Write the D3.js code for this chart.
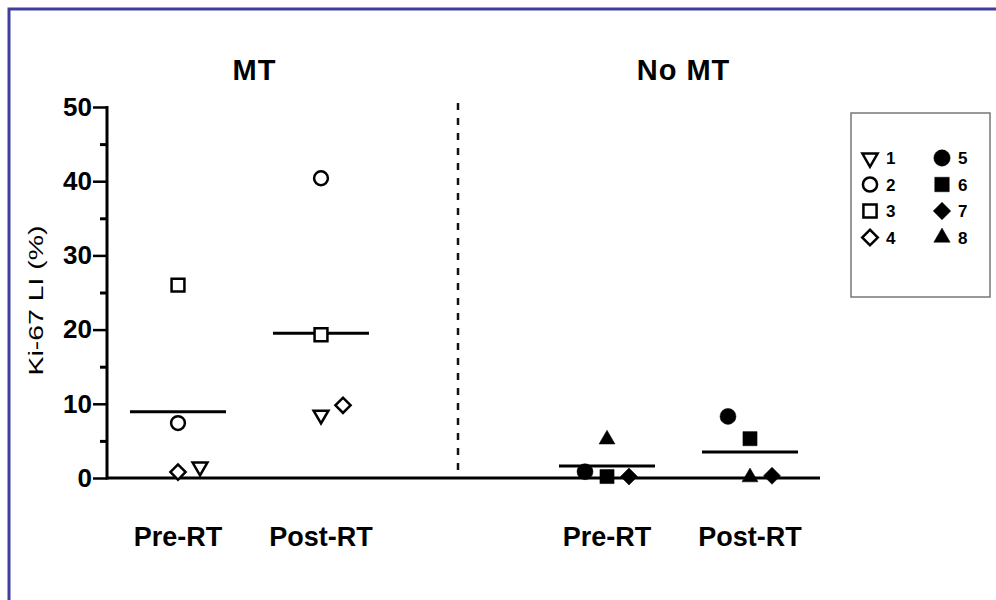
<!DOCTYPE html>
<html>
<head>
<meta charset="utf-8">
<script src="https://cdn.jsdelivr.net/npm/d3@7"></script>
<style>
  html, body { margin: 0; padding: 0; background: #fff; }
  svg { display: block; font-family: "Liberation Sans", Arial, sans-serif; }
</style>
</head>
<body>
<div id="chart"></div>
<script>
// chart data
const groups = ["MT", "No MT"];
const timepoints = ["Pre-RT", "Post-RT"];
const mtPatients = [1, 2, 3, 4];
const noMtPatients = [5, 6, 7, 8];

// Ki-67 LI (%) per patient
const mtPre = [1.5, 7.4, 26.0, 0.8];
const mtPost = [8.5, 40.4, 19.3, 9.8];
const noMtPre = [0.85, 0.2, 0.2, 5.2];
const noMtPost = [8.3, 5.3, 0.3, 0.1];

// side-by-side slot so overlapping points don't hide each other
const mtPreSlot = [1, 0, 0, 0];
const mtPostSlot = [0, 0, 0, 1];
const noMtPreSlot = [-1, 0, 1, 0];
const noMtPostSlot = [-1, 0, 1, 0];

const yTicks = [0, 10, 20, 30, 40, 50];
const yMinorTicks = [5, 15, 25, 35, 45];
const yLabel = "Ki-67 LI (%)";

const W = 996, H = 600;
const svg = d3.select("#chart").append("svg").attr("width", W).attr("height", H);

// frame
svg.append("path").attr("d", `M9,${H} V9 H${W}`).attr("fill", "none").attr("stroke", "#40409c").attr("stroke-width", 3);

const slots = ["MT|Pre-RT", "MT|Post-RT", "gap", "No MT|Pre-RT", "No MT|Post-RT"];
const x = d3.scalePoint().domain(slots).range([178, 750]);
const y = d3.scaleLinear().domain([0, 50]).range([478, 107]);
const jitter = 22;

// y axis
const yAxis = svg.append("g").attr("transform", "translate(107,0)")
    .call(d3.axisLeft(y).tickValues(yTicks).tickSize(14).tickPadding(1).tickFormat(d3.format("d")));
yAxis.select(".domain").remove();
yAxis.selectAll(".tick line").attr("stroke", "#000").attr("stroke-width", 2.5);
yAxis.selectAll(".tick text").attr("font-size", 26).attr("font-weight", "bold")
    .attr("font-family", "'Liberation Sans', Arial, sans-serif").attr("fill", "#000");
svg.append("g").attr("transform", "translate(107,0)")
    .call(d3.axisLeft(y).tickValues(yMinorTicks).tickSize(7).tickFormat(""))
    .call(g => g.select(".domain").remove())
    .selectAll("line").attr("stroke", "#000").attr("stroke-width", 3);
svg.append("line").attr("x1", 107).attr("x2", 107).attr("y1", y(50) - 1).attr("y2", y(0) + 1.5)
    .attr("stroke", "#000").attr("stroke-width", 3);

// x baseline
svg.append("line").attr("x1", 107).attr("x2", 820).attr("y1", y(0)).attr("y2", y(0))
    .attr("stroke", "#000").attr("stroke-width", 3);

// divider
svg.append("line").attr("x1", x("gap") - 6).attr("x2", x("gap") - 6).attr("y1", 103).attr("y2", 476)
    .attr("stroke", "#111").attr("stroke-width", 2.5).attr("stroke-dasharray", "7 8");

svg.append("text").attr("transform", `translate(43,${(y(0) + y(50)) / 2 + 8}) rotate(-90)`)
    .attr("text-anchor", "middle").attr("font-size", 20).attr("textLength", 150)
    .attr("lengthAdjust", "spacingAndGlyphs").text(yLabel);

// symbols
const shapes = {
    1: {type: d3.symbolTriangle, size: 95, rotate: 180, fill: false},
    2: {type: d3.symbolCircle, size: 150, rotate: 0, fill: false},
    3: {type: d3.symbolSquare, size: 165, rotate: 0, fill: false},
    4: {type: d3.symbolSquare, size: 115, rotate: 45, fill: false},
    5: {type: d3.symbolCircle, size: 200, rotate: 0, fill: true},
    6: {type: d3.symbolSquare, size: 200, rotate: 0, fill: true},
    7: {type: d3.symbolSquare, size: 145, rotate: 45, fill: true},
    8: {type: d3.symbolTriangle, size: 110, rotate: 0, fill: true}
};
function drawSymbol(g, p, cx, cy, k = 1) {
    const s = shapes[p];
    g.append("path").attr("d", d3.symbol().type(s.type).size(s.size * k)())
        .attr("transform", `translate(${cx},${cy}) rotate(${s.rotate})`)
        .attr("fill", s.fill ? "#000" : "#fff")
        .attr("stroke", "#000").attr("stroke-width", s.fill ? 0.5 : 2.5);
}

const sets = [
    {group: "MT", time: "Pre-RT", patients: mtPatients, values: mtPre, slot: mtPreSlot},
    {group: "MT", time: "Post-RT", patients: mtPatients, values: mtPost, slot: mtPostSlot},
    {group: "No MT", time: "Pre-RT", patients: noMtPatients, values: noMtPre, slot: noMtPreSlot},
    {group: "No MT", time: "Post-RT", patients: noMtPatients, values: noMtPost, slot: noMtPostSlot}
];

const marks = svg.append("g");
sets.forEach(set => {
    const cx = x(set.group + "|" + set.time);
    const m = d3.mean(set.values);
    marks.append("line").attr("x1", cx - 48).attr("x2", cx + 48).attr("y1", y(m)).attr("y2", y(m))
        .attr("stroke", "#000").attr("stroke-width", 3);
    set.values.forEach((v, i) => drawSymbol(marks, set.patients[i], cx + set.slot[i] * jitter, y(v)));
    svg.append("text").attr("x", cx).attr("y", 546).attr("text-anchor", "middle")
        .attr("font-size", 27).attr("font-weight", "bold").text(set.time);
});

// group titles
groups.forEach(gname => {
    const cx = (x(gname + "|Pre-RT") + x(gname + "|Post-RT")) / 2 + 5;
    svg.append("text").attr("x", cx).attr("y", 80).attr("text-anchor", "middle")
        .attr("font-size", 29).attr("font-weight", "bold").attr("letter-spacing", 1).text(gname);
});

// legend
const legend = svg.append("g");
legend.append("rect").attr("x", 851).attr("y", 113).attr("width", 139).attr("height", 184)
    .attr("fill", "#fff").attr("stroke", "#777").attr("stroke-width", 1.5);
[mtPatients, noMtPatients].forEach((col, ci) => {
    col.forEach((p, ri) => {
        const lx = 870 + ci * 72, ly = 158 + ri * 26.5;
        drawSymbol(legend, p, lx, ly, 1.05);
        legend.append("text").attr("x", lx + 16).attr("y", ly + 6)
            .attr("font-size", 17).attr("font-weight", "bold").text(p);
    });
});
</script>
</body>
</html>
